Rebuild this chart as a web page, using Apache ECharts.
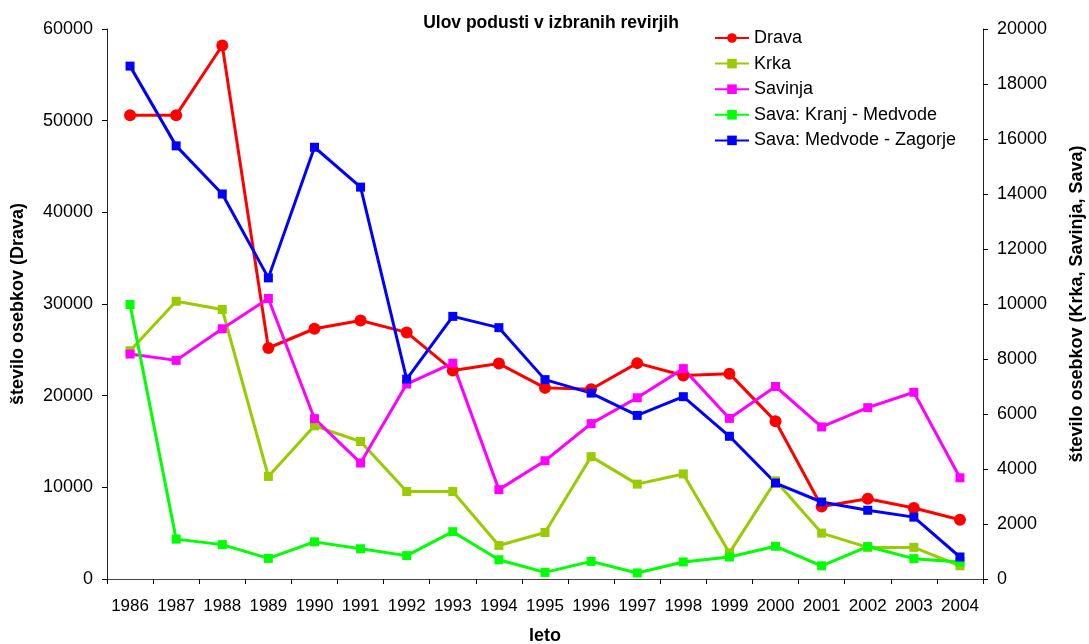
<!DOCTYPE html>
<html>
<head>
<meta charset="utf-8">
<script src="https://cdn.jsdelivr.net/npm/echarts@6/dist/echarts.min.js"></script>
<style>
  html, body { margin: 0; padding: 0; background: #fff; overflow: hidden; }
  #chart { width: 1089px; height: 644px; }
</style>
</head>
<body>
<div id="chart"></div>
<script>
// Years on the category axis
const years = ['1986','1987','1988','1989','1990','1991','1992','1993','1994','1995',
               '1996','1997','1998','1999','2000','2001','2002','2003','2004'];

// Catch per river section (left axis: Drava, right axis: the rest)
const drava = [50600, 50600, 58200, 25200, 27300, 28200, 26900, 22750, 23500, 20850,
               20700, 23550, 22200, 22400, 17200, 7900, 8750, 7750, 6470];
const krka = [8300, 10100, 9800, 3730, 5570, 5000, 3180, 3180, 1220, 1690,
              4450, 3450, 3820, 950, 3570, 1670, 1150, 1150, 480];
const savinja = [8180, 7950, 9100, 10200, 5830, 4220, 7090, 7850, 3250, 4300,
                 5650, 6590, 7650, 5840, 7000, 5530, 6230, 6790, 3680];
const savaKranj = [9980, 1450, 1250, 750, 1350, 1100, 850, 1720, 700, 240,
                   640, 220, 620, 800, 1190, 480, 1180, 740, 620];
const savaMedvode = [18650, 15750, 14000, 10950, 15700, 14250, 7270, 9550, 9140, 7250,
                     6760, 5950, 6630, 5190, 3490, 2800, 2500, 2250, 800];

const FONT = '"Liberation Sans", Arial, sans-serif';
const plain = v => String(v);

function lineSeries(name, data, color, symbol, size, axisIndex) {
  return {
    name: name,
    type: 'line',
    yAxisIndex: axisIndex,
    data: data,
    symbol: symbol,
    symbolSize: size,
    lineStyle: { color: color, width: 3 },
    itemStyle: { color: color },
    emphasis: { disabled: true },
    animation: false
  };
}

const chart = echarts.init(document.getElementById('chart'), null, { renderer: 'canvas' });

chart.setOption({
  backgroundColor: '#ffffff',
  title: {
    text: 'Ulov podusti v izbranih revirjih',
    left: 546,
    textAlign: 'center',
    top: 9,
    textStyle: { fontFamily: FONT, fontSize: 17.5, fontWeight: 'bold', color: '#000' }
  },
  legend: {
    orient: 'vertical',
    left: 709,
    top: 24,
    itemWidth: 34,
    itemHeight: 12,
    itemGap: 7.6,
    textStyle: { fontFamily: FONT, fontSize: 18, color: '#000' },
    data: ['Drava', 'Krka', 'Savinja', 'Sava: Kranj - Medvode', 'Sava: Medvode - Zagorje']
  },
  grid: { left: 107, right: 106, top: 29, bottom: 65, containLabel: false, outerBoundsMode: 'none' },
  xAxis: {
    type: 'category',
    data: years,
    boundaryGap: true,
    name: 'leto',
    nameLocation: 'middle',
    nameGap: 48,
    nameTextStyle: { fontFamily: FONT, fontSize: 18, fontWeight: 'bold', color: '#000' },
    axisLine: { lineStyle: { color: '#444', width: 1 } },
    axisTick: { show: true, length: 5, lineStyle: { color: '#000' } },
    axisLabel: { fontFamily: FONT, fontSize: 17, color: '#000', margin: 19, interval: 0 },
    splitLine: { show: false }
  },
  yAxis: [
    {
      type: 'value',
      min: 0, max: 60000, interval: 10000,
      position: 'left',
      name: 'število osebkov (Drava)',
      nameLocation: 'middle',
      nameRotate: 90,
      nameGap: 80,
      nameTextStyle: { fontFamily: FONT, fontSize: 18, fontWeight: 'bold', color: '#000' },
      axisLine: { show: true, lineStyle: { color: '#222', width: 1 } },
      axisTick: { show: true, length: 5, lineStyle: { color: '#000' } },
      axisLabel: { fontFamily: FONT, fontSize: 18, color: '#000', margin: 14, formatter: plain },
      splitLine: { show: false }
    },
    {
      type: 'value',
      min: 0, max: 20000, interval: 2000,
      position: 'right',
      name: 'število osebkov (Krka, Savinja, Sava)',
      nameLocation: 'middle',
      nameRotate: 90,
      nameGap: 85,
      nameTextStyle: { fontFamily: FONT, fontSize: 18, fontWeight: 'bold', color: '#000' },
      axisLine: { show: true, lineStyle: { color: '#222', width: 1 } },
      axisTick: { show: true, length: 5, lineStyle: { color: '#000' } },
      axisLabel: { fontFamily: FONT, fontSize: 18, color: '#000', margin: 14, formatter: plain },
      splitLine: { show: false }
    }
  ],
  series: [
    lineSeries('Drava', drava, '#ff0000', 'circle', 12, 0),
    lineSeries('Krka', krka, '#99cc00', 'rect', 9, 1),
    lineSeries('Savinja', savinja, '#ff00ff', 'rect', 9, 1),
    lineSeries('Sava: Kranj - Medvode', savaKranj, '#00ff00', 'rect', 9, 1),
    lineSeries('Sava: Medvode - Zagorje', savaMedvode, '#0000ff', 'rect', 9, 1)
  ]
});
</script>
</body>
</html>
